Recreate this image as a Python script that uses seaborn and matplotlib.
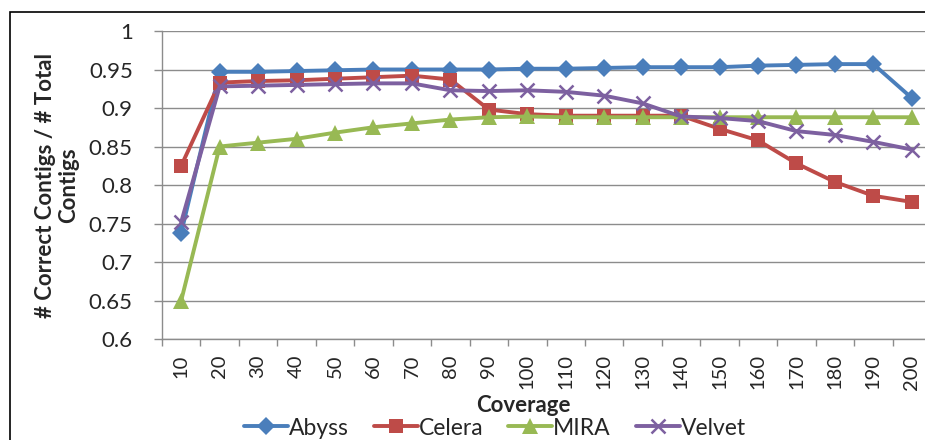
# contig correctness vs coverage for the four assemblers
import pandas as pd
import matplotlib
matplotlib.use("Agg")
import matplotlib.pyplot as plt
from matplotlib.patches import Rectangle
from matplotlib.ticker import FixedLocator
import seaborn as sns

coverage = ["10", "20", "30", "40", "50", "60", "70", "80", "90", "100",
            "110", "120", "130", "140", "150", "160", "170", "180", "190", "200"]

abyss = [0.738, 0.947, 0.947, 0.948, 0.949, 0.950, 0.950, 0.950, 0.950, 0.951,
         0.951, 0.952, 0.953, 0.953, 0.953, 0.955, 0.956, 0.957, 0.957, 0.913]
celera = [0.825, 0.933, 0.935, 0.936, 0.938, 0.940, 0.942, 0.937, 0.898, 0.892,
          0.890, 0.890, 0.890, 0.890, 0.873, 0.858, 0.828, 0.804, 0.786, 0.778]
mira = [0.650, 0.850, 0.855, 0.860, 0.868, 0.875, 0.880, 0.885, 0.888, 0.889,
        0.888, 0.888, 0.888, 0.888, 0.888, 0.888, 0.888, 0.888, 0.888, 0.888]
velvet = [0.752, 0.928, 0.929, 0.930, 0.931, 0.932, 0.932, 0.923, 0.922, 0.923,
          0.921, 0.916, 0.906, 0.889, 0.887, 0.883, 0.870, 0.865, 0.856, 0.846]

tools = ["Abyss", "Celera", "MIRA", "Velvet"]
colors = ["#4A7EBB", "#BE4B48", "#98B954", "#7D60A0"]
markers = ["D", "s", "^", "x"]
yticks = [0.6, 0.65, 0.7, 0.75, 0.8, 0.85, 0.9, 0.95, 1.0]
ytick_labels = ["0.6", "0.65", "0.7", "0.75", "0.8", "0.85", "0.9", "0.95", "1"]


def main():
    sns.set_style("white")
    plt.rcParams["font.family"] = ["Lato", "DejaVu Sans"]

    fig = plt.figure(figsize=(9.25, 4.4), dpi=100)
    ax = fig.add_axes([162 / 925, 1 - 339 / 440, 769 / 925, 308 / 440])

    # one call per tool since seaborn won't mix filled and line markers
    for name, vals, c, m in zip(tools, [abyss, celera, mira, velvet], colors, markers):
        d = pd.DataFrame({"coverage": coverage, "ratio": vals})
        if m == "x":
            extra = dict(markersize=10, markeredgewidth=1.8, markeredgecolor=c)
        elif m == "^":
            extra = dict(markersize=11, markeredgewidth=0)
        else:
            extra = dict(markersize=9.5, markeredgewidth=0)
        sns.lineplot(data=d, x="coverage", y="ratio", color=c, marker=m, sort=False,
                     linewidth=2.8, linestyle="-", label=name, ax=ax, **extra)

    ax.set_xlim(-0.5, len(coverage) - 0.5)
    ax.set_ylim(0.6, 1.0)
    ax.set_yticks(yticks)
    ax.set_yticklabels(ytick_labels)
    ax.grid(axis="y", color="#8c8c8c", linewidth=1)
    ax.grid(axis="x", visible=False)
    ax.set_axisbelow(True)
    for s in ["top", "right"]:
        ax.spines[s].set_visible(False)
    for s in ["left", "bottom"]:
        ax.spines[s].set_color("#8c8c8c")
        ax.spines[s].set_linewidth(1)

    # category boundary ticks like excel
    ax.xaxis.set_minor_locator(FixedLocator([i - 0.5 for i in range(len(coverage) + 1)]))
    ax.tick_params(axis="x", which="major", length=0, pad=11, labelsize=14.5, rotation=90)
    ax.tick_params(axis="x", which="minor", length=5, color="#8c8c8c", width=1,
                   direction="out", bottom=True)
    ax.tick_params(axis="y", length=6, color="#8c8c8c", width=1, direction="out", left=True,
                   labelsize=16, pad=15)

    ax.set_xlabel("")
    ax.set_ylabel("")
    fig.text(523 / 925, 1 - 405 / 440, "Coverage", fontsize=16, fontweight="bold",
             ha="center", va="center")
    fig.text(57 / 925, 1 - 185 / 440, "# Correct Contigs / # Total\nContigs", fontsize=16,
             fontweight="bold", ha="center", va="center", rotation=90, linespacing=1.15,
             multialignment="center")

    ax.legend(loc="center", bbox_to_anchor=(495 / 925, 1 - 428 / 440),
              bbox_transform=fig.transFigure, ncol=4, frameon=False, fontsize=16.5,
              handlelength=1.9, columnspacing=1.1, handletextpad=0.05, borderaxespad=0,
              borderpad=0)

    fig.patches.append(Rectangle((10 / 925, -0.1), 1.2, 1.1 - 12 / 440,
                                 transform=fig.transFigure, fill=False,
                                 edgecolor="black", linewidth=1.2))

    fig.savefig("out.png", dpi=100)
    plt.close(fig)


if __name__ == "__main__":
    main()
